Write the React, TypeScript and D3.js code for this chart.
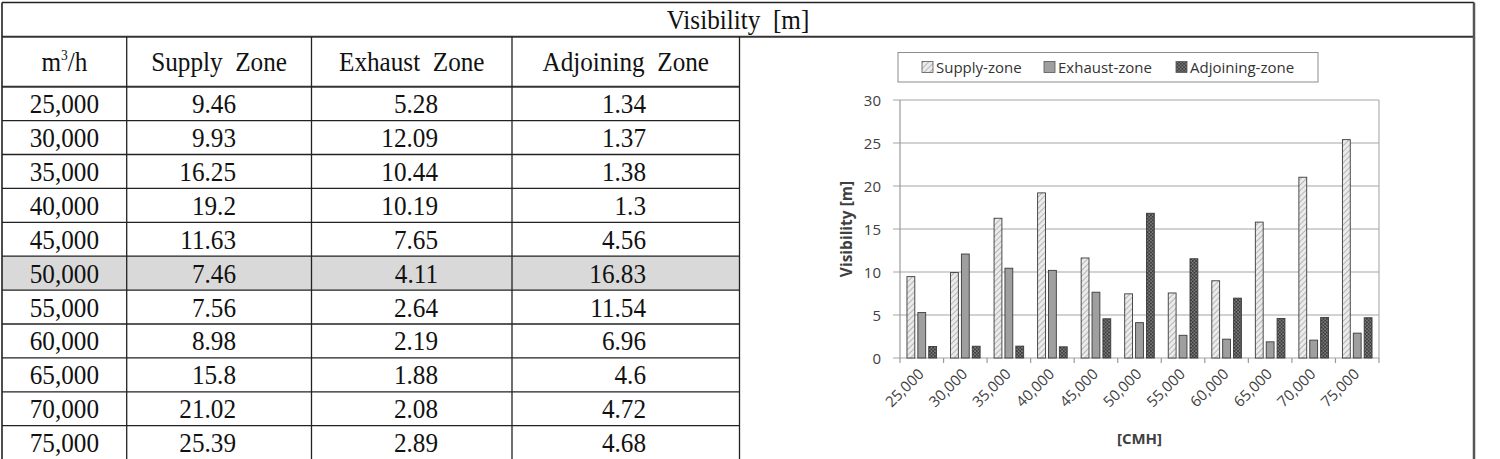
import React from 'react';
import * as d3 from 'd3';

const flows = ['25,000', '30,000', '35,000', '40,000', '45,000', '50,000', '55,000', '60,000', '65,000', '70,000', '75,000'];
const supply = [9.46, 9.93, 16.25, 19.2, 11.63, 7.46, 7.56, 8.98, 15.8, 21.02, 25.39];
const exhaust = [5.28, 12.09, 10.44, 10.19, 7.65, 4.11, 2.64, 2.19, 1.88, 2.08, 2.89];
const adjoining = [1.34, 1.37, 1.38, 1.3, 4.56, 16.83, 11.54, 6.96, 4.6, 4.72, 4.68];
const seriesNames = ['Supply-zone', 'Exhaust-zone', 'Adjoining-zone'];
const headers = ['Supply  Zone', 'Exhaust  Zone', 'Adjoining  Zone'];
const tableTitle = 'Visibility  [m]';
const yTicks = [0, 5, 10, 15, 20, 25, 30];
const highlightRow = '50,000';
const yTitle = 'Visibility [m]';
const xTitle = '[CMH]';

const series = [supply, exhaust, adjoining];
const fills = ['url(#hatch)', '#9f9f9f', 'url(#dots)'];

const SERIF = '"Liberation Serif", "Times New Roman", serif';
const SANS = '"Open Sans", "Noto Sans", sans-serif';

// table geometry
const T_LEFT = 2;
const T_RIGHT = 1474;
const T_TOP = 2.5;
const TITLE_B = 36.7;
const HEAD_B = 86.7;
const ROW_H = 33.9;
const colX = [T_LEFT, 126.7, 311.5, 512, 739.5];
const numRight = [236, 438, 646];

function SText({ x, y, anchor = 'middle', children, size = 28 }: any) {
  return (
    <text
      transform={`translate(${x},${y}) scale(0.9,1)`}
      textAnchor={anchor}
      fontFamily={SERIF}
      fontSize={size}
      fill="#111"
      style={{ whiteSpace: 'pre' }}
    >
      {children}
    </text>
  );
}

export default function App() {
  const x = d3.scaleBand<string>().domain(flows).range([900, 1379]).padding(0);
  const bw = x.bandwidth();
  const inner = d3
    .scaleBand<string>()
    .domain(seriesNames)
    .range([bw / 2 - 14.8, bw / 2 + 14.8])
    .paddingInner(0.28);
  const y = d3.scaleLinear().domain([0, 30]).range([358, 100]);
  const [px0, px1] = x.range();

  const rowY = (i: number) => HEAD_B + i * ROW_H;

  return (
    <div style={{ position: 'absolute', left: 0, top: 0 }}>
      <svg width={1500} height={459} style={{ display: 'block', background: '#fff' }}>
        <defs>
          <pattern id="hatch" width="4" height="4" patternUnits="userSpaceOnUse" patternTransform="rotate(45)">
            <rect width="4" height="4" fill="#ebebeb" />
            <line x1="0" y1="0" x2="0" y2="4" stroke="#9a9a9a" strokeWidth="1.3" />
          </pattern>
          <pattern id="dots" width="3.4" height="3.4" patternUnits="userSpaceOnUse">
            <rect width="3.4" height="3.4" fill="#3c3c3c" />
            <rect x="0.3" y="0.3" width="1.2" height="1.2" fill="#b5b5b5" />
            <rect x="2" y="2" width="1.2" height="1.2" fill="#b5b5b5" />
          </pattern>
        </defs>

        {/* table highlight row */}
        {flows.map((f, i) =>
          f === highlightRow ? (
            <rect key={f} x={T_LEFT} y={rowY(i)} width={colX[4] - T_LEFT} height={ROW_H} fill="#d9d9d9" />
          ) : null
        )}

        {/* table lines */}
        <line x1={T_LEFT} y1={T_TOP} x2={T_RIGHT} y2={T_TOP} stroke="#222" strokeWidth={1.5} />
        <line x1={T_LEFT} y1={TITLE_B} x2={T_RIGHT} y2={TITLE_B} stroke="#333" strokeWidth={2} />
        <line x1={T_LEFT} y1={HEAD_B} x2={colX[4]} y2={HEAD_B} stroke="#333" strokeWidth={2} />
        {flows.map((f, i) =>
          i > 0 ? (
            <line key={f} x1={T_LEFT} y1={rowY(i)} x2={colX[4]} y2={rowY(i)} stroke="#222" strokeWidth={1.3} />
          ) : null
        )}
        <line x1={T_LEFT} y1={T_TOP} x2={T_LEFT} y2={459} stroke="#222" strokeWidth={1.6} />
        <line x1={T_RIGHT} y1={T_TOP} x2={T_RIGHT} y2={459} stroke="#555" strokeWidth={2.5} />
        {colX.slice(1).map((cx) => (
          <line key={cx} x1={cx} y1={TITLE_B} x2={cx} y2={459} stroke="#222" strokeWidth={1.3} />
        ))}

        {/* table text */}
        <SText x={(T_LEFT + T_RIGHT) / 2} y={28.5}>{tableTitle}</SText>
        <text
          transform={`translate(${(colX[0] + colX[1]) / 2},${71}) scale(0.9,1)`}
          textAnchor="middle"
          fontFamily={SERIF}
          fontSize={28}
          fill="#111"
        >
          m<tspan dy={-11} fontSize={15}>3</tspan>
          <tspan dy={11}>/h</tspan>
        </text>
        {headers.map((h, j) => (
          <SText key={h} x={(colX[j + 1] + colX[j + 2]) / 2} y={71}>
            {h}
          </SText>
        ))}
        {flows.map((f, i) => (
          <g key={f}>
            <SText x={(colX[0] + colX[1]) / 2} y={rowY(i) + ROW_H / 2 + 9.5}>
              {f}
            </SText>
            {series.map((s, j) => (
              <SText key={j} x={numRight[j]} y={rowY(i) + ROW_H / 2 + 9.5} anchor="end">
                {String(s[i])}
              </SText>
            ))}
          </g>
        ))}

        {/* chart: legend */}
        <rect x={898} y={52.5} width={420} height={29.5} fill="#fff" stroke="#8c8c8c" strokeWidth={1} />
        {seriesNames.map((n, j) => {
          const lx = [922, 1044, 1176][j];
          return (
            <g key={n}>
              <rect x={lx} y={61.5} width={11} height={11} fill={fills[j]} stroke="#555" strokeWidth={0.8} />
              <text x={lx + 14} y={72.5} fontFamily={SANS} fontSize={15} fill="#333">
                {n}
              </text>
            </g>
          );
        })}

        {/* gridlines & ticks */}
        {yTicks.map((t) => (
          <g key={t}>
            <line x1={893} x2={px1} y1={y(t)} y2={y(t)} stroke="#a6a6a6" strokeWidth={1.2} />
            <text x={881} y={y(t) + 5.5} textAnchor="end" fontFamily={SANS} fontSize={15} fill="#404040">
              {t}
            </text>
          </g>
        ))}
        <line x1={px0} x2={px0} y1={y(30)} y2={y(0)} stroke="#9a9a9a" strokeWidth={1.2} />
        <line x1={px1} x2={px1} y1={y(30)} y2={y(0)} stroke="#b0b0b0" strokeWidth={1.2} />
        {[...flows.map((f) => x(f) as number), px1].map((tx, i) => (
          <line key={i} x1={tx} x2={tx} y1={y(0)} y2={y(0) + 5} stroke="#9a9a9a" strokeWidth={1.2} />
        ))}

        {/* bars */}
        {flows.map((f, i) => (
          <g key={f} transform={`translate(${x(f)},0)`}>
            {series.map((s, j) => (
              <rect
                key={j}
                x={inner(seriesNames[j])}
                y={y(s[i])}
                width={inner.bandwidth()}
                height={y(0) - y(s[i])}
                fill={fills[j]}
                stroke="#3a3a3a"
                strokeWidth={0.9}
              />
            ))}
          </g>
        ))}

        {/* x labels */}
        {flows.map((f) => (
          <text
            key={f}
            transform={`translate(${(x(f) as number) + bw / 2 + 3},${375}) rotate(-45)`}
            textAnchor="end"
            fontFamily={SANS}
            fontSize={15}
            fill="#404040"
          >
            {f}
          </text>
        ))}

        <text
          transform={`translate(852,${(y(0) + y(30)) / 2}) rotate(-90)`}
          textAnchor="middle"
          fontFamily={SANS}
          fontSize={15.5}
          fontWeight="bold"
          fill="#404040"
        >
          {yTitle}
        </text>
        <text x={(px0 + px1) / 2} y={444} textAnchor="middle" fontFamily={SANS} fontSize={15} fontWeight="bold" fill="#404040">
          {xTitle}
        </text>
      </svg>
    </div>
  );
}
